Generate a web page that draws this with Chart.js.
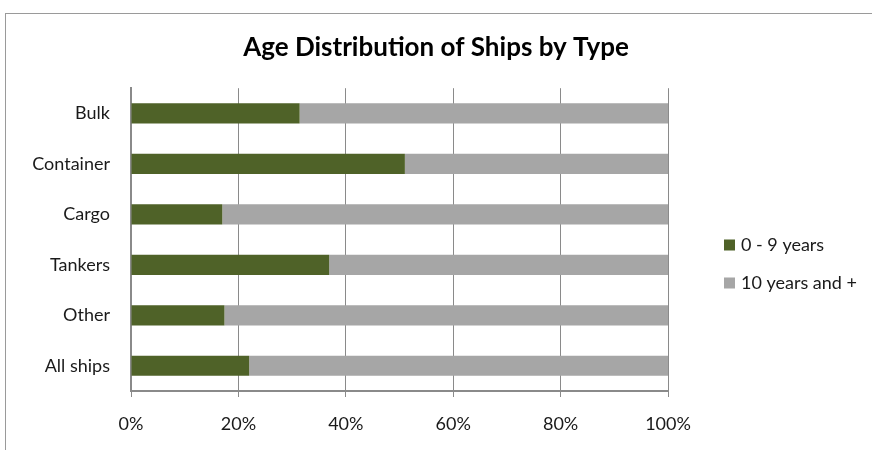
<!DOCTYPE html>
<html>
<head>
<meta charset="utf-8">
<title>Age Distribution of Ships by Type</title>
<script src="https://cdn.jsdelivr.net/npm/chart.js@4/dist/chart.umd.min.js"></script>
<style>
  html, body { margin: 0; padding: 0; background: #fff; overflow: hidden; }
  #wrap { position: relative; width: 872px; height: 450px; }
  #frame {
    position: absolute; left: 5px; top: 13px; width: 900px; height: 500px;
    border-left: 1px solid #9a9a9a; border-top: 1px solid #9a9a9a;
    pointer-events: none;
  }
  canvas { position: absolute; left: 0; top: 0; }
</style>
</head>
<body>
<div id="wrap">
  <canvas id="chart" width="872" height="450"></canvas>
  <div id="frame"></div>
</div>
<script>
// Ship types, top to bottom
const shipTypes = ['Bulk', 'Container', 'Cargo', 'Tankers', 'Other', 'All ships'];
// Share of fleet (%) by age group
const youngShare = [31.4, 51.0, 17.0, 36.9, 17.4, 22.0];   // 0 - 9 years
const oldShare   = [68.6, 49.0, 83.0, 63.1, 82.6, 78.0];   // 10 years and +
const seriesNames = ['0 - 9 years', '10 years and +'];
const seriesColors = ['#4f6228', '#a6a6a6'];
const percentTicks = [0, 20, 40, 60, 80, 100];

const FONT = 'Lato, "Open Sans", "DejaVu Sans", sans-serif';

// Legend drawn to the right of the plot, squares beside labels
const sideLegend = {
  id: 'sideLegend',
  afterDraw(chart) {
    const ctx = chart.ctx;
    const area = chart.chartArea;
    const x = area.right + 56;
    const y0 = 245;
    const step = 38;
    ctx.save();
    ctx.font = '18px ' + FONT;
    ctx.textBaseline = 'middle';
    ctx.textAlign = 'left';
    chart.data.datasets.forEach((ds, i) => {
      const y = y0 + i * step;
      ctx.fillStyle = ds.backgroundColor;
      ctx.fillRect(x, y - 5.5, 11, 11);
      ctx.fillStyle = '#1a1a1a';
      ctx.fillText(ds.label, x + 17, y);
    });
    ctx.restore();
  }
};

new Chart(document.getElementById('chart'), {
  type: 'bar',
  data: {
    labels: shipTypes,
    datasets: [
      { label: seriesNames[0], data: youngShare, backgroundColor: seriesColors[0] },
      { label: seriesNames[1], data: oldShare, backgroundColor: seriesColors[1] }
    ]
  },
  options: {
    indexAxis: 'y',
    responsive: false,
    animation: false,
    devicePixelRatio: 1,
    layout: { padding: 0 },
    datasets: { bar: { barPercentage: 0.4, categoryPercentage: 1.0, borderWidth: 0 } },
    scales: {
      x: {
        stacked: true,
        min: 0,
        max: 100,
        afterBuildTicks(scale) { scale.ticks = percentTicks.map(v => ({ value: v })); },
        afterFit(scale) { scale.height = 59; },
        ticks: {
          callback: v => v + '%',
          color: '#1a1a1a',
          font: { family: FONT, size: 18 },
          padding: 16,
          maxRotation: 0
        },
        grid: { color: '#8a8a8a', lineWidth: 1, tickLength: 6, drawTicks: true },
        border: { color: '#8a8a8a', width: 2 }
      },
      y: {
        stacked: true,
        afterFit(scale) { scale.width = 131; },
        ticks: {
          color: '#1a1a1a',
          font: { family: FONT, size: 18 },
          padding: 21
        },
        grid: { display: false, drawTicks: false },
        border: { color: '#8a8a8a', width: 2 }
      },
      // empty band on the right that holds the legend
      legendSpace: {
        type: 'category',
        axis: 'y',
        position: 'right',
        afterFit(scale) { scale.width = 204; },
        ticks: { display: false },
        grid: { display: false, drawTicks: false },
        border: { display: false }
      }
    },
    plugins: {
      legend: { display: false },
      tooltip: { enabled: false },
      title: {
        display: true,
        text: 'Age Distribution of Ships by Type',
        color: '#000',
        font: { family: FONT, size: 26, weight: 'bold' },
        padding: { top: 32, bottom: 25 }
      }
    }
  },
  plugins: [sideLegend]
});
</script>
</body>
</html>
